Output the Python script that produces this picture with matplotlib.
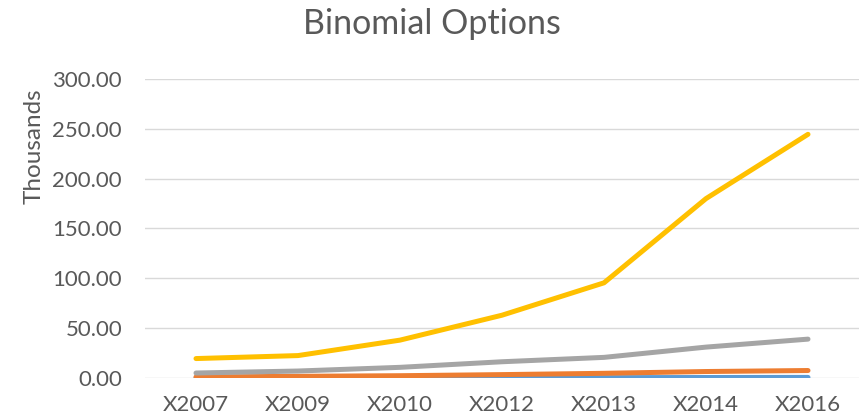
import numpy as np
import matplotlib.pyplot as plt

years = ['X2007', 'X2009', 'X2010', 'X2012', 'X2013', 'X2014', 'X2016']
# values in thousands
blue = [0.1, 0.15, 0.2, 0.3, 0.35, 0.5, 0.6]
orange = [1.0, 1.7, 2.3, 3.4, 4.7, 6.5, 7.5]
gray = [5.0, 7.0, 10.7, 16.3, 20.7, 31.0, 39.0]
yellow = [19.5, 22.5, 38.0, 63.0, 95.5, 180.0, 244.5]

series = [(blue, '#5B9BD5'), (orange, '#ED7D31'), (gray, '#A5A5A5'), (yellow, '#FFC000')]

plt.rcParams['font.family'] = ['Lato', 'DejaVu Sans']
txt = '#595959'

fig = plt.figure(figsize=(8.63, 4.18), dpi=100)
ax = fig.add_axes([145 / 863, 1 - 378 / 418, (859 - 145) / 863, (378 - 79) / 418])

x = np.arange(len(years))
for vals, col in series:
    ax.plot(x, vals, color=col, linewidth=3.6, solid_capstyle='round', zorder=3)

ax.set_xlim(-0.5, len(years) - 0.5)
ax.set_ylim(0, 300)
ax.set_yticks(np.arange(0, 301, 50))
ax.set_yticklabels(['%.2f' % v for v in np.arange(0, 301, 50)])
ax.set_xticks(x)
ax.set_xticklabels(years)
ax.grid(axis='y', color='#D9D9D9', linewidth=1.0)
ax.set_axisbelow(True)
for s in ax.spines.values():
    s.set_visible(False)
ax.tick_params(length=0, labelsize=16, colors=txt, pad=12)
ax.tick_params(axis='y', pad=16.5)

# display-units label sits near the top of the value axis
fig.text(34 / 863, 1 - 146 / 418, 'Thousands', rotation=90, ha='center', va='center',
         fontsize=17.5, color=txt)

fig.text(0.5, 1 - 24 / 418, 'Binomial Options', ha='center', va='center',
         fontsize=24.5, color=txt)

fig.savefig('out.png', dpi=100)
